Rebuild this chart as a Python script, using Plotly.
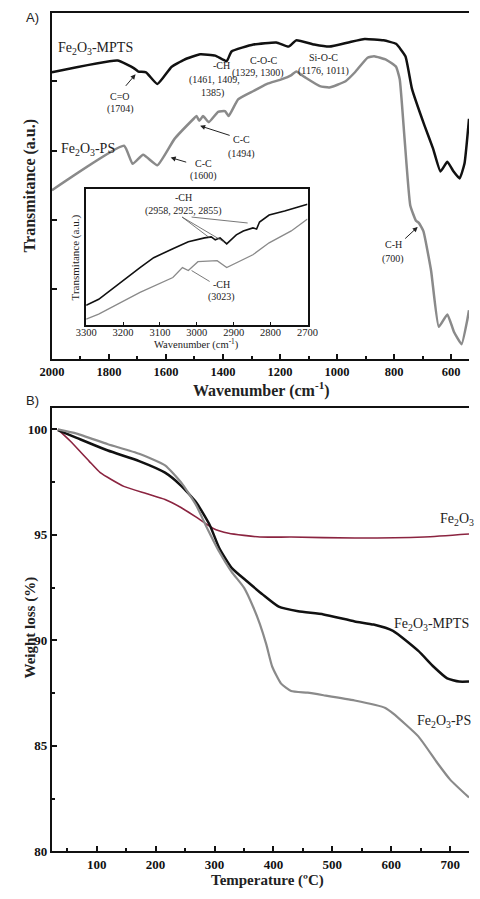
import plotly.graph_objects as go

W, H = 480, 899

# --- panel A: FTIR, 2000-537 cm-1 (transmittance, arbitrary units)
wn_mpts = [2000, 1770, 1713, 1697, 1670, 1630, 1580, 1537, 1480, 1427, 1387, 1370, 1293, 1213,
           1170, 1143, 1080, 1027, 960, 903, 837, 793, 760, 737, 693, 663, 637, 613, 593, 570, 553, 537]
t_mpts = [4.13, 4.30, 4.19, 4.14, 4.13, 3.96, 4.21, 4.31, 4.39, 4.37, 4.29, 4.43, 4.53, 4.56,
          4.50, 4.59, 4.53, 4.50, 4.56, 4.61, 4.59, 4.54, 4.36, 3.89, 3.36, 3.03, 2.70, 2.84, 2.71, 2.60, 2.81, 3.46]

wn_ps = [2000, 1747, 1717, 1680, 1630, 1570, 1503, 1493, 1483, 1470, 1450, 1417, 1393, 1380,
         1347, 1293, 1247, 1193, 1160, 1143, 1113, 1060, 1027, 970, 937, 893, 870, 827, 793, 780,
         763, 743, 723, 713, 697, 670, 643, 613, 590, 563, 543, 537]
t_ps = [2.43, 3.07, 2.81, 2.94, 2.79, 3.17, 3.46, 3.50, 3.43, 3.50, 3.41, 3.56, 3.57, 3.50,
        3.74, 3.86, 3.96, 4.03, 4.09, 4.14, 4.06, 3.93, 3.91, 4.00, 4.13, 4.34, 4.36, 4.31, 4.21, 4.03,
        3.17, 2.21, 1.99, 1.96, 1.84, 1.27, 0.46, 0.64, 0.39, 0.21, 0.56, 0.70]

# inset: 3300-2700 cm-1
wn_in_mpts = [3300, 3266, 3154, 3117, 3065, 3023, 2979, 2961, 2950, 2937, 2919, 2893, 2874, 2848,
              2838, 2830, 2804, 2762, 2700]
t_in_mpts = [20, 26, 58, 68, 77, 84, 88, 89, 86, 88, 82, 91, 95, 98, 97, 104, 111, 115, 122]
wn_in_ps = [3300, 3266, 3154, 3065, 3039, 3023, 2997, 2945, 2919, 2893, 2848, 2804, 2744, 2700]
t_in_ps = [6, 11, 33, 48, 58, 55, 64, 65, 58, 63, 71, 83, 95, 107]

# --- panel B: TGA
temp_fe = [34, 55, 87, 106, 146, 184, 216, 243, 269, 297, 324, 377, 430, 538, 656, 732]
wt_fe = [100.0, 99.45, 98.5, 97.95, 97.3, 96.96, 96.68, 96.3, 95.84, 95.32, 95.08, 94.9, 94.9,
         94.85, 94.9, 95.04]
temp_mpts = [34, 66, 119, 172, 216, 243, 269, 292, 308, 329, 356, 382, 409, 442, 485, 538, 570,
             603, 646, 672, 695, 715, 732]
wt_mpts = [99.97, 99.6, 99.0, 98.5, 97.95, 97.34, 96.54, 95.46, 94.38, 93.44, 92.78, 92.17, 91.6,
           91.38, 91.23, 90.9, 90.75, 90.45, 89.5, 88.75, 88.2, 88.05, 88.05]
temp_ps = [34, 66, 119, 172, 216, 243, 269, 285, 308, 329, 350, 366, 377, 388, 398, 413, 430, 458,
           485, 538, 590, 603, 646, 678, 700, 732]
wt_ps = [100.0, 99.8, 99.3, 98.85, 98.3, 97.5, 96.4, 95.46, 94.2, 93.25, 92.5, 91.56, 90.77, 89.8,
         88.75, 87.95, 87.6, 87.52, 87.4, 87.15, 86.8, 86.54, 85.45, 84.2, 83.4, 82.55]

BLACK = "#111111"
GRAY = "#8a8a8a"
MAROON = "#8b2440"
SERIF = "Liberation Serif, Times New Roman, serif"


def px(x, y):
    return x / W, 1 - y / H


fig = go.Figure()
fig.add_trace(go.Scatter(x=wn_mpts, y=t_mpts, mode="lines", line=dict(color=BLACK, width=2.5, shape="spline", smoothing=0.4), xaxis="x", yaxis="y"))
fig.add_trace(go.Scatter(x=wn_ps, y=t_ps, mode="lines", line=dict(color=GRAY, width=2.5, shape="spline", smoothing=0.4), xaxis="x", yaxis="y"))
fig.add_trace(go.Scatter(x=wn_in_mpts, y=t_in_mpts, mode="lines", line=dict(color=BLACK, width=1.6), xaxis="x3", yaxis="y3"))
fig.add_trace(go.Scatter(x=wn_in_ps, y=t_in_ps, mode="lines", line=dict(color=GRAY, width=1.3), xaxis="x3", yaxis="y3"))
fig.add_trace(go.Scatter(x=temp_fe, y=wt_fe, mode="lines", line=dict(color=MAROON, width=1.6, shape="spline", smoothing=0.5), xaxis="x2", yaxis="y2"))
fig.add_trace(go.Scatter(x=temp_mpts, y=wt_mpts, mode="lines", line=dict(color=BLACK, width=2.5, shape="spline", smoothing=0.5), xaxis="x2", yaxis="y2"))
fig.add_trace(go.Scatter(x=temp_ps, y=wt_ps, mode="lines", line=dict(color=GRAY, width=2.2, shape="spline", smoothing=0.5), xaxis="x2", yaxis="y2"))

tickfont_a = dict(family=SERIF, size=12.5, color=BLACK, weight="bold")
tickfont_b = dict(family=SERIF, size=13, color=BLACK, weight="bold")
ax_common = dict(showline=True, linecolor=BLACK, linewidth=2, ticks="inside", tickcolor=BLACK,
                 tickwidth=2, ticklen=5, showgrid=False, zeroline=False)

fig.update_layout(
    width=W, height=H, showlegend=False,
    margin=dict(l=0, r=0, t=0, b=0),
    paper_bgcolor="white", plot_bgcolor="white",
    xaxis=dict(ax_common, domain=[41 / W, 1], anchor="y", range=[2000, 537], dtick=200,
               mirror=True, tickfont=tickfont_a,
               minor=dict(dtick=100, ticks="inside", ticklen=3, tickcolor=BLACK)),
    yaxis=dict(ax_common, domain=[1 - 362 / H, 1 - 13 / H], anchor="x", range=[0, 4.986], dtick=1,
               showticklabels=False),
    xaxis2=dict(ax_common, domain=[41 / W, 1], anchor="y2", range=[24, 732], dtick=100,
                mirror=True, tickfont=tickfont_b,
                minor=dict(dtick=50, ticks="inside", ticklen=3, tickcolor=BLACK)),
    yaxis2=dict(ax_common, domain=[1 - 859 / H, 1 - 412 / H], anchor="x2", range=[80, 101], dtick=5,
                tickfont=tickfont_b,
                minor=dict(dtick=2.5, ticks="inside", ticklen=3, tickcolor=BLACK)),
    xaxis3=dict(ax_common, domain=[77 / W, 310 / W], anchor="y3", range=[3300, 2700], dtick=100,
                linewidth=1.5, mirror=True, ticklen=3, tickwidth=1, ticklabelstandoff=-3,
                tickfont=dict(family=SERIF, size=10.5, color="#222")),
    yaxis3=dict(ax_common, domain=[1 - 328 / H, 1 - 191 / H], anchor="x3", range=[0, 137],
                linewidth=1.5, mirror=True, showticklabels=False, ticks=""),
)

ann = []
shapes = []


def text(x, y, s, size=11, bold=False, family=SERIF, angle=0, xanchor="center"):
    xx, yy = px(x, y)
    ann.append(dict(x=xx, y=yy, xref="paper", yref="paper", text=s, showarrow=False, textangle=angle,
                    xanchor=xanchor, yanchor="middle",
                    font=dict(family=family, size=size, color="#222", weight="bold" if bold else "normal")))


def arrow(x0, y0, x1, y1, color="#222"):
    xx, yy = px(x1, y1)
    ann.append(dict(x=xx, y=yy, xref="paper", yref="paper", text="", showarrow=True,
                    ax=x0 - x1, ay=y0 - y1, arrowhead=2, arrowsize=1, arrowwidth=1,
                    arrowcolor=color))


def line(x0, y0, x1, y1, color="#555"):
    a, b = px(x0, y0)
    c, d = px(x1, y1)
    shapes.append(dict(type="line", xref="paper", yref="paper", x0=a, y0=b, x1=c, y1=d,
                       line=dict(color=color, width=0.8)))


# panel letters and axis titles
text(20, 18, "A)", size=13, family="Liberation Sans, Arial, sans-serif")
text(20, 404, "B)", size=13, family="Liberation Sans, Arial, sans-serif")
text(18, 188, "Transmitance (a.u.)", size=16, bold=True, angle=-90)
text(262, 393, "Wavenumber (cm<sup>-1</sup>)", size=16, bold=True)
text(18, 633, "Weight loss (%)", size=15, bold=True, angle=-90)
text(268, 888, "Temperature (ºC)", size=15, bold=True)

# panel A labels
text(45, 49, "Fe<sub>2</sub>O<sub>3</sub>-MPTS", size=14, xanchor="left")
text(48, 151, "Fe<sub>2</sub>O<sub>3</sub>-PS", size=14, xanchor="left")
text(113, 97, "C=O", size=10)
text(113, 110, "(1704)", size=10)
arrow(118, 88, 129, 75)
text(219, 66, "-CH", size=10)
text(212, 81, "(1461, 1409,", size=10)
text(210, 94, "1385)", size=10)
text(264, 61, "C-O-C", size=10)
text(258, 74, "(1329, 1300)", size=10)
text(327, 58, "Si-O-C", size=10)
text(327, 72, "(1176, 1011)", size=10)
text(240, 141, "C-C", size=10)
text(240, 155, "(1494)", size=10)
arrow(228, 137, 197, 127)
text(200, 165, "C-C", size=10)
text(200, 178, "(1600)", size=10)
arrow(183, 164, 166, 159)
text(400, 247, "C-H", size=10)
text(400, 261, "(700)", size=10)
arrow(412, 242, 426, 229)

# inset labels
text(179, 199, "-CH", size=10)
text(179, 213, "(2958, 2925, 2855)", size=10)
line(178, 219, 207, 240)
line(178, 219, 222, 244)
line(188, 219, 247, 225)
text(219, 287, "-CH", size=10)
text(219, 300, "(3023)", size=10)
line(207, 284, 188, 273)
text(66, 260, "Transmitance (a.u.)", size=11, angle=-90)
text(193, 347, "Wavenumber (cm<sup>-1</sup>)", size=10.5)

# panel B labels
text(447, 524, "Fe<sub>2</sub>O<sub>3</sub>", size=14, xanchor="left")
text(399, 630, "Fe<sub>2</sub>O<sub>3</sub>-MPTS", size=14, xanchor="left")
text(423, 728, "Fe<sub>2</sub>O<sub>3</sub>-PS", size=14, xanchor="left")

fig.update_layout(annotations=ann, shapes=shapes)
fig.write_html("out.html", config={"displayModeBar": False},
               post_script="document.body.style.margin='0';document.body.style.overflow='hidden';")
